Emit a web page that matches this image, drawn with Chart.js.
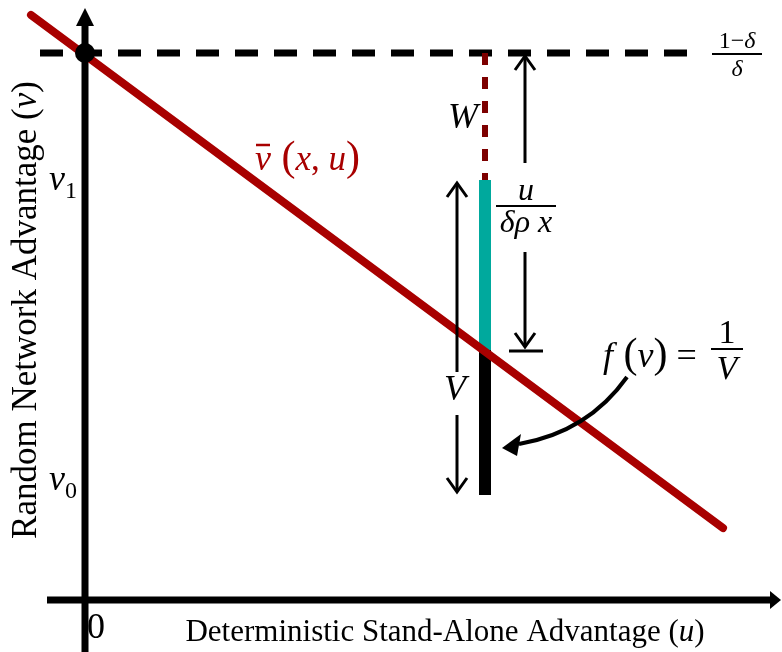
<!DOCTYPE html>
<html>
<head>
<meta charset="utf-8">
<script src="https://cdn.jsdelivr.net/npm/chart.js@4.4.1/dist/chart.umd.min.js"></script>
<style>
html, body { margin: 0; padding: 0; background: #fff; }
#wrap { width: 782px; height: 652px; }
</style>
</head>
<body>
<div id="wrap"><canvas id="chart"></canvas></div>
<script>
// diagram units: u along the stand-alone axis, v along the network axis
const uRange = [-0.85, 6.97];
const vRange = [-0.52, 6.00];

// v̄(x,u) line
const lineU = [-0.54, 6.38];
const lineV = [5.85, 0.72];

// (1-δ)/δ level
const capU = [-0.45, 6.02];
const capV = 5.47;

// support of v at the marked u: [v0, v1], split where the line crosses it
const markU = 4.0;
const supportV = [1.05, 2.50, 4.20];   // v0, crossing, v1

// axes
const axisU = [-0.38, 6.86];
const axisV = [-0.52, 5.74];

const RED = '#a80000';
const DARK_RED = '#7d0000';
const TEAL = '#00a99d';
const SERIF = "'Liberation Serif', 'DejaVu Serif', serif";

function seg(us, vs) {
  return us.map((u, i) => ({ x: u, y: vs[i] }));
}

const datasets = [
  { data: seg([0, 0], axisV), borderColor: '#000', borderWidth: 7, order: 9 },
  { data: seg(axisU, [0, 0]), borderColor: '#000', borderWidth: 7, order: 9 },
  { data: seg(capU, [capV, capV]), borderColor: '#000', borderWidth: 7, borderDash: [23, 16], order: 8 },
  { data: seg([markU, markU], [capV, supportV[2]]), borderColor: DARK_RED, borderWidth: 6, borderDash: [12, 12], order: 7 },
  { data: seg([markU, markU], [supportV[1], supportV[2]]), borderColor: TEAL, borderWidth: 12, order: 6 },
  { data: seg([markU, markU], [supportV[0], supportV[1]]), borderColor: '#000', borderWidth: 12, order: 6 },
  { data: seg(lineU, lineV), borderColor: RED, borderWidth: 8, borderCapStyle: 'round', order: 2 },
  { data: [{ x: 0, y: capV }], pointRadius: 10, pointBackgroundColor: '#000', pointBorderWidth: 0, showLine: false, order: 1 }
];

// draw a row of text runs [text, font, color, dy] starting at (x, y); returns run start xs
function runs(ctx, parts, x, y, align) {
  let w = 0;
  parts.forEach(p => { ctx.font = p[1]; w += ctx.measureText(p[0]).width; });
  let cx = align === 'center' ? x - w / 2 : x;
  const starts = [];
  ctx.textAlign = 'left';
  parts.forEach(p => {
    ctx.font = p[1];
    ctx.fillStyle = p[2] || '#000';
    starts.push(cx);
    ctx.fillText(p[0], cx, y + (p[3] || 0));
    cx += ctx.measureText(p[0]).width;
  });
  return starts;
}

function fraction(ctx, num, den, cx, barY, halfW, denDrop) {
  ctx.textBaseline = 'alphabetic';
  runs(ctx, num, cx, barY - 6, 'center');
  runs(ctx, den, cx, barY + denDrop, 'center');
  ctx.strokeStyle = '#000';
  ctx.lineWidth = 2;
  ctx.beginPath();
  ctx.moveTo(cx - halfW, barY);
  ctx.lineTo(cx + halfW, barY);
  ctx.stroke();
}

function chevron(ctx, x, y, dir) {
  // open arrowhead, dir = -1 points up, 1 points down
  ctx.beginPath();
  ctx.moveTo(x - 10, y - dir * 14);
  ctx.lineTo(x, y);
  ctx.lineTo(x + 10, y - dir * 14);
  ctx.stroke();
}

const diagramMarks = {
  id: 'diagramMarks',
  afterDatasetsDraw(chart) {
    const { ctx, scales: { x, y } } = chart;
    const X = u => x.getPixelForValue(u);
    const Y = v => y.getPixelForValue(v);
    ctx.save();
    ctx.fillStyle = '#000';
    ctx.strokeStyle = '#000';

    // axis arrowheads
    ctx.beginPath();
    ctx.moveTo(X(0), Y(5.92));
    ctx.lineTo(X(0) - 9, Y(5.74));
    ctx.lineTo(X(0) + 9, Y(5.74));
    ctx.closePath();
    ctx.fill();
    ctx.beginPath();
    ctx.moveTo(X(6.96), Y(0));
    ctx.lineTo(X(6.85), Y(0) - 9);
    ctx.lineTo(X(6.85), Y(0) + 9);
    ctx.closePath();
    ctx.fill();

    ctx.lineCap = 'butt';
    ctx.lineJoin = 'miter';
    ctx.lineWidth = 3;

    // u/(δρx) gap arrows
    ctx.beginPath();
    ctx.moveTo(X(4.40), Y(4.37));
    ctx.lineTo(X(4.40), Y(5.44));
    ctx.stroke();
    chevron(ctx, X(4.40), Y(5.44), -1);
    ctx.beginPath();
    ctx.moveTo(X(4.40), Y(3.48));
    ctx.lineTo(X(4.40), Y(2.53));
    ctx.stroke();
    chevron(ctx, X(4.40), Y(2.53), 1);
    ctx.beginPath();
    ctx.moveTo(X(4.24), Y(2.49));
    ctx.lineTo(X(4.58), Y(2.49));
    ctx.stroke();

    // V span arrows
    ctx.beginPath();
    ctx.moveTo(X(3.72), Y(2.28));
    ctx.lineTo(X(3.72), Y(4.17));
    ctx.stroke();
    chevron(ctx, X(3.72), Y(4.17), -1);
    ctx.beginPath();
    ctx.moveTo(X(3.72), Y(1.85));
    ctx.lineTo(X(3.72), Y(1.08));
    ctx.stroke();
    chevron(ctx, X(3.72), Y(1.08), 1);

    // curved pointer to the density bar
    ctx.lineWidth = 4;
    ctx.beginPath();
    ctx.moveTo(X(5.42), Y(2.23));
    ctx.quadraticCurveTo(X(5.03), Y(1.68), X(4.34), Y(1.56));
    ctx.stroke();
    ctx.beginPath();
    ctx.moveTo(X(4.17), Y(1.52));
    ctx.lineTo(X(4.36), Y(1.66));
    ctx.lineTo(X(4.32), Y(1.44));
    ctx.closePath();
    ctx.fill();

    ctx.textBaseline = 'alphabetic';
    const it = s => 'italic ' + s + 'px ' + SERIF;
    const up = s => s + 'px ' + SERIF;

    // labels
    runs(ctx, [['W', it(36)]], X(3.78), Y(4.72), 'center');

    const vb = runs(ctx, [['v', it(36), RED], [' (', up(42), RED], ['x', it(35), RED], [', ', up(35), RED], ['u', it(35), RED], [')', up(42), RED]], X(1.70), Y(4.30), 'left');
    ctx.strokeStyle = RED;
    ctx.lineWidth = 2.5;
    ctx.beginPath();
    ctx.moveTo(vb[0] + 1, Y(4.30) - 25);
    ctx.lineTo(vb[1] - 1, Y(4.30) - 25);
    ctx.stroke();

    fraction(ctx, [['u', it(32)]], [['δρ', it(32)], [' x', it(32)]], X(4.41), Y(3.94), 30, 26);
    fraction(ctx, [['1', up(24)], ['−', up(24)], ['δ', it(24)]], [['δ', it(24)]], X(6.52), Y(5.46), 25, 22);
    fraction(ctx, [['1', up(34)]], [['V', it(34)]], X(6.42), Y(2.51), 16, 30);
    runs(ctx, [['f', it(36)], [' (', up(42)], ['v', it(36)], [')', up(42)], [' =', up(36)]], X(5.18), Y(2.33), 'left');

    runs(ctx, [['V', it(36)]], X(3.70), Y(2.00), 'center');
    runs(ctx, [['v', it(36)], ['1', up(24), '#000', 8]], X(-0.36), Y(4.10), 'left');
    runs(ctx, [['v', it(36)], ['0', up(24), '#000', 8]], X(-0.36), Y(1.10), 'left');
    runs(ctx, [['0', up(36)]], X(0.11), Y(-0.38), 'center');

    // axis titles
    runs(ctx, [['Deterministic Stand-Alone Advantage (', up(31)], ['u', it(31)], [')', up(31)]], X(3.60), Y(-0.41), 'center');
    ctx.translate(X(-0.49), Y(2.90));
    ctx.rotate(-Math.PI / 2);
    runs(ctx, [['Random Network Advantage (', up(35)], ['v', it(35)], [')', up(35)]], 0, 0, 'center');
    ctx.restore();
  }
};

new Chart(document.getElementById('chart'), {
  type: 'scatter',
  data: { datasets: datasets.map(d => Object.assign({ showLine: true, pointRadius: 0, borderCapStyle: 'butt', fill: false }, d)) },
  options: {
    responsive: true,
    maintainAspectRatio: false,
    animation: false,
    layout: { padding: 0, autoPadding: false },
    plugins: { legend: { display: false }, tooltip: { enabled: false } },
    scales: {
      x: { type: 'linear', min: uRange[0], max: uRange[1], display: false },
      y: { type: 'linear', min: vRange[0], max: vRange[1], display: false }
    }
  },
  plugins: [diagramMarks]
});
</script>
</body>
</html>
